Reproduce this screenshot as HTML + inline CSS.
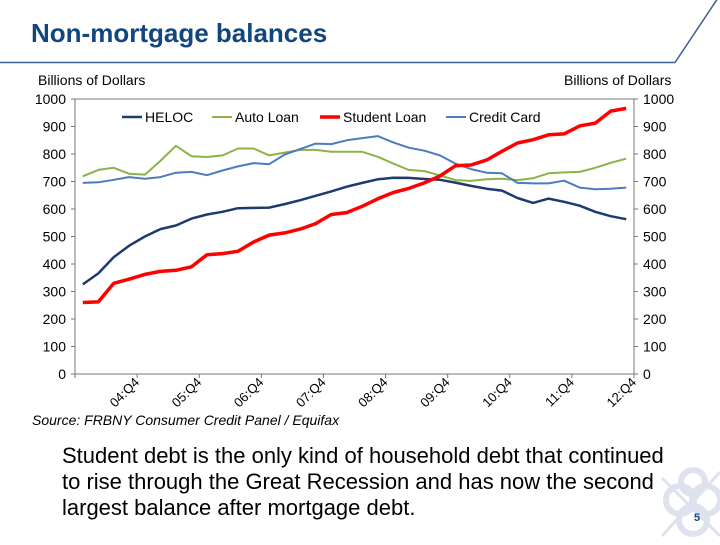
<!DOCTYPE html>
<html><head><meta charset="utf-8"><style>
body{margin:0;width:720px;height:540px;overflow:hidden;background:#fff;font-family:"Liberation Sans",sans-serif}
</style></head><body>
<svg id="s" width="720" height="540" xmlns="http://www.w3.org/2000/svg" font-family="Liberation Sans, sans-serif">
<text x="31" y="42" font-size="26" font-weight="bold" fill="#12467e">Non-mortgage balances</text>
<polyline points="0,62.5 675,62.5 720,-5" fill="none" stroke="#3a5f95" stroke-width="1.5"/>
<text x="38" y="85" font-size="14">Billions of Dollars</text>
<text x="564" y="85" font-size="14">Billions of Dollars</text>
<g id="ax"></g>
<g id="ser"></g>
<g font-size="14">
<line x1="122" y1="117" x2="142" y2="117" stroke="#1f3a6e" stroke-width="2.5"/><text x="145" y="122">HELOC</text>
<line x1="212" y1="117" x2="232" y2="117" stroke="#8db245" stroke-width="2"/><text x="235" y="122">Auto Loan</text>
<line x1="320" y1="117" x2="340" y2="117" stroke="#ff0000" stroke-width="3.5"/><text x="343" y="122">Student Loan</text>
<line x1="446" y1="117" x2="466" y2="117" stroke="#4a7cc0" stroke-width="2"/><text x="469" y="122">Credit Card</text>
</g>
<text x="32" y="425" font-size="14" font-style="italic">Source: FRBNY Consumer Credit Panel / Equifax</text>
<g font-size="22">
<text x="62" y="463">Student debt is the only kind of household debt that continued</text>
<text x="62" y="489">to rise through the Great Recession and has now the second</text>
<text x="62" y="515">largest balance after mortgage debt.</text>
</g>
<g fill="none" stroke="#dde2ee" stroke-width="6">
<circle cx="680" cy="500" r="14"/><circle cx="706" cy="500" r="14"/><circle cx="693" cy="520" r="14"/><circle cx="693" cy="482" r="12"/>
<line x1="662" y1="478" x2="720" y2="536" stroke-width="3"/><line x1="720" y1="472" x2="662" y2="536" stroke-width="3"/>
</g>
<text x="694" y="521" font-size="11" font-weight="bold" fill="#12467e">5</text>
</svg>
<script>
var ax=document.getElementById('ax'),ser=document.getElementById('ser'),NS="http://www.w3.org/2000/svg";
function el(t,a,p,txt){var e=document.createElementNS(NS,t);for(var k in a)e.setAttribute(k,a[k]);if(txt!=null)e.textContent=txt;(p||ax).appendChild(e);return e;}
var L=75,R=634,T=99,B=374;function Y(v){return B-(B-T)*v/1000;}
var step=(R-L)/36;function X(i){return L+step*(i+0.5);}
el('line',{x1:L,y1:T,x2:L,y2:B,stroke:'#777'});el('line',{x1:R,y1:T,x2:R,y2:B,stroke:'#777'});
el('line',{x1:L,y1:B,x2:R,y2:B,stroke:'#777'});el('line',{x1:L,y1:T,x2:R,y2:T,stroke:'#777'});
for(var v=0;v<=1000;v+=100){var y=Y(v);
el('line',{x1:L-4,y1:y,x2:L,y2:y,stroke:'#777'});el('line',{x1:R,y1:y,x2:R+4,y2:y,stroke:'#777'});
el('text',{x:L-9,y:y+5,'font-size':14,'text-anchor':'end'},ax,v);el('text',{x:R+9,y:y+5,'font-size':14},ax,v);}
for(var q=0;q<=36;q+=4){var x=L+step*q;el('line',{x1:x,y1:B,x2:x,y2:B+4,stroke:'#777'});}
for(var yr=4;yr<=12;yr++){var x=L+step*((yr-4)*4+4);var lab=(yr<10?'0':'')+yr+':Q4';
el('text',{x:x+3,y:B+9,'font-size':13,'text-anchor':'end',transform:'rotate(-45 '+(x+3)+' '+(B+9)+')'},ax,lab);}
var data=[
['#8db245',2,[719,742,750,728,725,775,830,792,789,795,820,820,795,805,815,815,808,808,808,790,765,742,738,722,705,702,708,710,705,712,730,733,735,750,768,783]],
['#4a7cc0',2,[695,697,706,716,710,716,732,735,723,740,755,767,763,798,818,838,836,850,858,865,842,823,812,795,765,745,732,730,695,693,693,703,678,672,674,678]],
['#1f3a6e',2.5,[326,366,425,467,500,527,540,565,580,590,603,604,605,618,632,648,664,681,695,708,714,713,709,706,696,684,674,667,640,622,638,626,612,590,574,563]],
['#ff0000',3.5,[260,262,330,345,362,373,377,390,434,438,446,480,505,513,527,547,580,587,610,637,660,675,695,720,757,760,778,810,840,852,870,873,902,912,956,966]]];
data.forEach(function(d){var p=d[2].map(function(v,i){return X(i).toFixed(1)+','+Y(v).toFixed(1)}).join(' ');
el('polyline',{points:p,fill:'none',stroke:d[0],'stroke-width':d[1],'stroke-linejoin':'round'},ser);});
</script>
</body></html>
